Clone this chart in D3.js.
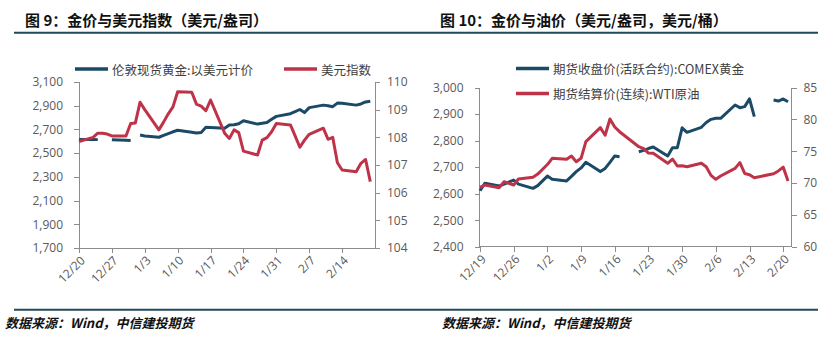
<!DOCTYPE html>
<html>
<head>
<meta charset="utf-8">
<script src="https://cdn.jsdelivr.net/npm/d3@7"></script>
<style>
  html, body { margin: 0; padding: 0; background: #fff; }
  svg { display: block; }
</style>
</head>
<body>
<svg id="chart" width="820" height="339"></svg>
<script>
// ---------------- DATA ----------------
// Figure 9: London spot gold (USD/oz) vs US dollar index
const leftDates = ["12/20","12/23","12/24","12/25","12/26","12/27","12/30","12/31","1/1","1/2","1/3","1/6","1/7","1/8","1/9","1/10","1/13","1/14","1/15","1/16","1/17","1/20","1/21","1/22","1/23","1/24","1/27","1/28","1/29","1/30","1/31","2/3","2/4","2/5","2/6","2/7","2/10","2/11","2/12","2/13","2/14","2/17","2/18","2/19","2/20"];
const londonGold = [2615,2616,2614,null,null,2612,2609,2606,null,2653,2645,2634,2650,2665,2680,2693,2677,2670,2675,2718,2716,2710,2737,2740,2748,2773,2745,2752,2758,2785,2810,2833,2850,2868,2842,2884,2905,2900,2892,2922,2920,2905,2915,2932,2938];
const usdIndex = [107.85,108.0,108.15,108.15,108.12,108.05,108.05,108.5,108.52,109.27,109.0,108.27,108.55,108.85,109.1,109.65,109.63,109.2,109.13,108.96,109.35,108.15,107.96,108.27,108.17,107.5,107.36,107.9,107.99,108.2,108.5,108.45,108.05,107.64,107.9,108.11,108.33,107.93,108.0,107.08,106.82,106.76,107.06,107.2,106.4];
const leftYTicks = [1700,1900,2100,2300,2500,2700,2900,3100];
const leftY2Ticks = [104,105,106,107,108,109,110];

// Figure 10: COMEX gold (USD/oz) vs WTI crude (USD/bbl)
const rightDates = ["12/19","12/20","12/23","12/24","12/26","12/27","12/30","12/31","1/2","1/3","1/6","1/7","1/8","1/9","1/10","1/13","1/14","1/15","1/16","1/17","1/20","1/21","1/22","1/23","1/24","1/27","1/28","1/29","1/30","1/31","2/3","2/4","2/5","2/6","2/7","2/10","2/11","2/12","2/13","2/14","2/17","2/18","2/19","2/20","2/21"];
const comexGold = [2611,2639,2629,2636,2651,2636,2620,2630,2666,2654,2648,2665,2683,2697,2718,2683,2695,2718,2742,2739,null,2758,2763,2770,2776,2742,2773,2773,2848,2831,2850,2868,2880,2884,2884,2934,2924,2928,2957,2890,null,2953,2949,2957,2946];
const wtiOil = [69.33,69.69,69.27,70.2,69.69,70.63,70.9,71.4,72.9,73.88,73.72,74.24,73.35,73.88,76.5,78.7,77.5,80.05,78.8,78.06,null,75.7,75.4,74.7,74.66,73.1,73.77,72.67,72.7,72.56,73.1,72.56,71.2,70.58,71.1,72.3,73.2,71.5,71.3,70.84,null,71.45,71.9,72.5,70.3];
const rightYTicks = [2400,2500,2600,2700,2800,2900,3000];
const rightY2Ticks = [60,65,70,75,80,85];

const leftTitle = "图 9：金价与美元指数（美元/盎司）";
const rightTitle = "图 10：金价与油价（美元/盎司，美元/桶）";
const leftLegend = ["伦敦现货黄金:以美元计价", "美元指数"];
const rightLegend = ["期货收盘价(活跃合约):COMEX黄金", "期货结算价(连续):WTI原油"];
const sourceText = "数据来源：Wind，中信建投期货";

// ---------------- HELPERS ----------------
const toDate = s => { const [m, d] = s.split("/").map(Number); return new Date(m === 12 ? 2024 : 2025, m - 1, d); };
const fmt = d3.timeFormat("%-m/%-d");
const BLUE = "#1b4a66", RED = "#bf3349", AXIS = "#8c8c8c", LABEL = "#595959", RULE = "#1e4a59";
const CJK = "'Noto Sans CJK SC', 'Noto Sans', sans-serif";
const NUM = "'Open Sans', 'Noto Sans', sans-serif";

const svg = d3.select("#chart");
svg.append("rect").attr("width", 820).attr("height", 339).attr("fill", "#fff");

// header & footer rules
svg.append("line").attr("x1", 14).attr("x2", 818).attr("y1", 32.7).attr("y2", 32.7)
  .attr("stroke", RULE).attr("stroke-width", 2);
svg.append("line").attr("x1", 14).attr("x2", 818).attr("y1", 309.7).attr("y2", 309.7)
  .attr("stroke", RULE).attr("stroke-width", 2);

function drawPanel(cfg) {
  const g = svg.append("g");
  // title
  g.append("text").attr("x", cfg.titleX).attr("y", 25.5).text(cfg.title)
    .attr("font-family", CJK).attr("font-weight", "bold").attr("font-size", 15).attr("fill", "#111");
  // source
  g.append("text").attr("x", cfg.srcX).attr("y", 328).text(sourceText)
    .attr("font-family", CJK).attr("font-weight", "bold").attr("font-style", "italic")
    .attr("font-size", 13).attr("fill", "#111");

  const dates = cfg.dates.map(toDate);
  const x = d3.scaleTime().domain([toDate(cfg.xStart), toDate(cfg.xEnd)]).range([cfg.dx0, cfg.dx1]);
  const y = d3.scaleLinear().domain(cfg.yDomain).range([cfg.yBottom, cfg.yTop]);
  const y2 = d3.scaleLinear().domain(cfg.y2Domain).range([cfg.yBottom, cfg.yTop]);

  // axes lines
  const ax = g.append("g").attr("stroke", AXIS).attr("stroke-width", 1).attr("shape-rendering", "crispEdges");
  ax.append("line").attr("x1", cfg.ax0).attr("x2", cfg.ax0).attr("y1", cfg.yTop).attr("y2", cfg.yBottom);
  ax.append("line").attr("x1", cfg.ax1).attr("x2", cfg.ax1).attr("y1", cfg.yTop).attr("y2", cfg.yBottom);
  ax.append("line").attr("x1", cfg.ax0).attr("x2", cfg.ax1).attr("y1", cfg.yBottom).attr("y2", cfg.yBottom);

  // left y axis
  const yl = g.append("g").attr("transform", `translate(${cfg.ax0},0)`)
    .call(d3.axisLeft(y).tickValues(cfg.yTicks).tickSize(5).tickPadding(11).tickFormat(d3.format(",")));
  // right y axis
  const yr = g.append("g").attr("transform", `translate(${cfg.ax1},0)`)
    .call(d3.axisRight(y2).tickValues(cfg.y2Ticks).tickSize(5).tickPadding(7).tickFormat(d3.format("d")));
  // x axis
  const xTicks = d3.timeDay.range(toDate(cfg.xStart), d3.timeDay.offset(toDate(cfg.lastTick), 1), 7);
  const xa = g.append("g").attr("transform", `translate(0,${cfg.yBottom})`)
    .call(d3.axisBottom(x).tickValues(xTicks).tickSize(5).tickFormat(fmt));
  xa.selectAll("text").attr("text-anchor", "end").attr("dy", null).attr("y", null)
    .attr("transform", "translate(4,11) rotate(-45)").attr("dominant-baseline", "middle");

  [yl, yr, xa].forEach(a => {
    a.select(".domain").remove();
    a.selectAll(".tick line").attr("stroke", AXIS).attr("shape-rendering", "crispEdges");
    a.selectAll("text").attr("font-family", NUM).attr("font-size", 12).attr("fill", LABEL);
  });

  // lines
  const pts1 = dates.map((d, i) => ({ d, v: cfg.s1[i] }));
  const pts2 = dates.map((d, i) => ({ d, v: cfg.s2[i] })).filter(p => p.v != null);
  const line1 = d3.line().defined(p => p.v != null).x(p => x(p.d)).y(p => y(p.v));
  const line2 = d3.line().x(p => x(p.d)).y(p => y2(p.v));
  const drawOrder = cfg.redFirst ? [[pts2, line2, RED], [pts1, line1, BLUE]] : [[pts1, line1, BLUE], [pts2, line2, RED]];
  drawOrder.forEach(([pts, ln, c]) => {
    g.append("path").datum(pts).attr("d", ln).attr("fill", "none").attr("stroke", c)
      .attr("stroke-width", 3).attr("stroke-linejoin", "round");
  });

  // legend
  cfg.legend.forEach((it, i) => {
    g.append("line").attr("x1", it.lx).attr("x2", it.lx + 33).attr("y1", it.ly).attr("y2", it.ly)
      .attr("stroke", i === 0 ? BLUE : RED).attr("stroke-width", 3.5);
    g.append("text").attr("x", it.lx + 37).attr("y", it.ly).attr("dominant-baseline", "central")
      .text(it.text).attr("font-family", CJK).attr("font-size", 12.5).attr("fill", "#404040");
  });
}

drawPanel({
  title: leftTitle, titleX: 25, srcX: 5,
  dates: leftDates, s1: londonGold, s2: usdIndex,
  xStart: "12/20", xEnd: "2/21", lastTick: "2/14", dx0: 79, dx1: 375,
  ax0: 79, ax1: 375, yTop: 82, yBottom: 248,
  yDomain: [1700, 3100], y2Domain: [104, 110], yTicks: leftYTicks, y2Ticks: leftY2Ticks,
  redFirst: false,
  legend: [{ lx: 75, ly: 69, text: leftLegend[0] }, { lx: 284, ly: 69, text: leftLegend[1] }]
});

drawPanel({
  title: rightTitle, titleX: 440, srcX: 442,
  dates: rightDates, s1: comexGold, s2: wtiOil,
  xStart: "12/19", xEnd: "2/21", lastTick: "2/20", dx0: 480, dx1: 788,
  ax0: 479.5, ax1: 791.5, yTop: 87.5, yBottom: 246.7,
  yDomain: [2400, 3000], y2Domain: [60, 85], yTicks: rightYTicks, y2Ticks: rightY2Ticks,
  redFirst: false,
  legend: [{ lx: 516, ly: 68.5, text: rightLegend[0] }, { lx: 516, ly: 93.5, text: rightLegend[1] }]
});
</script>
</body>
</html>
